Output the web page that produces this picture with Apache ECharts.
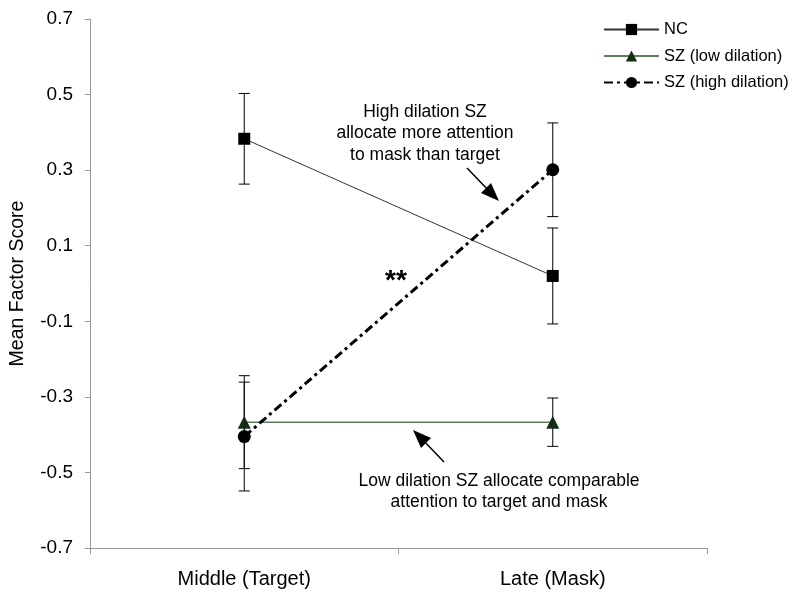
<!DOCTYPE html>
<html><head><meta charset="utf-8">
<script src="https://cdn.jsdelivr.net/npm/echarts@6/dist/echarts.min.js"></script>
<style>html,body{margin:0;padding:0;background:#fff}#c{width:800px;height:606px}</style>
</head><body><div id="c"></div>
<script>
var categories = ['Middle (Target)', 'Late (Mask)'];
var yTicks = [-0.7, -0.5, -0.3, -0.1, 0.1, 0.3, 0.5, 0.7];
var ncMean = [0.383, 0.020];
var ncErr = [0.120, 0.127];
var szLowMean = [-0.367, -0.367];
var szLowErr = [0.123, 0.064];
var szHighMean = [-0.405, 0.301];
var szHighErr = [0.144, 0.124];

function errData(mean, err) {
  return mean.map(function (m, i) { return [i, m - err[i], m + err[i]]; });
}
function errSeries(mean, err, z) {
  return {
    type: 'custom', z: z, silent: true, legendHoverLink: false,
    data: errData(mean, err),
    renderItem: function (params, api) {
      var lo = api.coord([api.value(0), api.value(1)]);
      var hi = api.coord([api.value(0), api.value(2)]);
      var w = 5.5;
      var st = { stroke: '#000', lineWidth: 1 };
      return { type: 'group', children: [
        { type: 'line', shape: { x1: hi[0], y1: hi[1], x2: lo[0], y2: lo[1] }, style: st },
        { type: 'line', shape: { x1: hi[0] - w, y1: hi[1], x2: hi[0] + w, y2: hi[1] }, style: st },
        { type: 'line', shape: { x1: lo[0] - w, y1: lo[1], x2: lo[0] + w, y2: lo[1] }, style: st }
      ]};
    }
  };
}

var font = 'Liberation Sans, Arial, sans-serif';
var chart = echarts.init(document.getElementById('c'));
chart.setOption({
  animation: false,
  textStyle: { fontFamily: font },
  grid: { left: 90, right: 93, top: 19, bottom: 58 },
  legend: {
    orient: 'vertical', left: 598, top: 16, itemWidth: 55, itemHeight: 14, itemGap: 9.5,
    textStyle: { fontSize: 16.5, color: '#000', fontFamily: font },
    data: ['NC', 'SZ (low dilation)', 'SZ (high dilation)']
  },
  xAxis: {
    type: 'category', data: categories, boundaryGap: true,
    axisLine: { onZero: false, lineStyle: { color: '#999' } },
    axisTick: { show: true, length: 6, lineStyle: { color: '#999' } },
    axisLabel: { fontSize: 20, color: '#000', margin: 21, fontFamily: font }
  },
  yAxis: {
    type: 'value', min: -0.7, max: 0.7, interval: 0.2,
    name: 'Mean Factor Score', nameLocation: 'middle', nameGap: 62,
    nameTextStyle: { fontSize: 19.5, color: '#000', fontFamily: font },
    axisLine: { show: true, lineStyle: { color: '#999' } },
    axisTick: { show: true, length: 5, lineStyle: { color: '#999' } },
    splitLine: { show: false },
    axisLabel: { fontSize: 19, color: '#000', margin: 17, fontFamily: font,
      formatter: function (v) { return (Math.round(v * 10) / 10).toFixed(1); } }
  },
  graphic: [
    { type: 'text', x: 425, y: 101, style: { text: 'High dilation SZ\nallocate more attention\nto mask than target', lineHeight: 21.5, fill: '#000', align: 'center', font: '17.5px ' + font } },
    { type: 'text', x: 499, y: 471, style: { text: 'Low dilation SZ allocate comparable\nattention to target and mask', lineHeight: 20.5, fill: '#000', align: 'center', font: '17.5px ' + font } },
    { type: 'text', x: 396, y: 267, style: { text: '**', fill: '#000', align: 'center', font: 'bold 28px ' + font } },
    { type: 'line', shape: { x1: 467, y1: 168, x2: 490, y2: 192 }, style: { stroke: '#000', lineWidth: 1.5 } },
    { type: 'polygon', shape: { points: [[499, 201], [481, 193], [491, 183]] }, style: { fill: '#000' } },
    { type: 'line', shape: { x1: 444, y1: 462, x2: 421, y2: 438 }, style: { stroke: '#000', lineWidth: 1.5 } },
    { type: 'polygon', shape: { points: [[413, 430], [431, 438], [421, 448]] }, style: { fill: '#000' } }
  ],
  series: [
    errSeries(ncMean, ncErr, 1),
    errSeries(szLowMean, szLowErr, 1),
    errSeries(szHighMean, szHighErr, 1),
    { name: 'NC', type: 'line', data: ncMean, z: 3, symbol: 'rect', symbolSize: 12,
      itemStyle: { color: '#000' }, lineStyle: { color: '#333', width: 1 } },
    { name: 'SZ (low dilation)', type: 'line', data: szLowMean, z: 3, symbol: 'triangle', symbolSize: 13,
      itemStyle: { color: '#142e14' }, lineStyle: { color: '#5e7d5e', width: 1.5 } },
    { name: 'SZ (high dilation)', type: 'line', data: szHighMean, z: 4, symbol: 'circle', symbolSize: 13,
      itemStyle: { color: '#000' }, lineStyle: { color: '#000', width: 3, type: [9, 4, 3, 4] } }
  ]
});
</script></body></html>
